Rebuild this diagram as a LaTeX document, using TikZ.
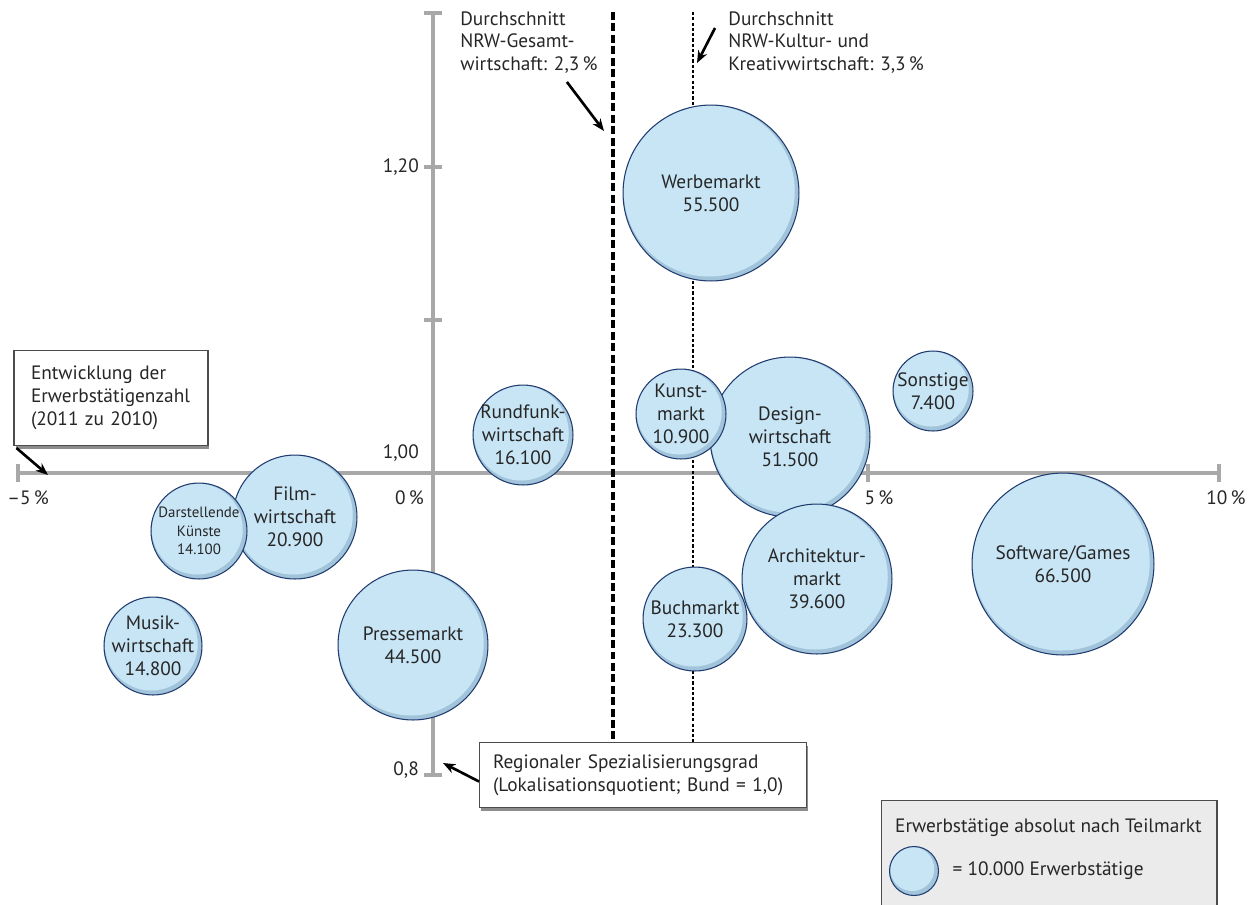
\documentclass[tikz,border=0pt]{standalone}
\usepackage{fontspec}
\setmainfont{PT Sans}
\usetikzlibrary{positioning,arrows.meta,shadows}
\definecolor{bubfill}{HTML}{C8E5F6}
\definecolor{bubdark}{HTML}{A2C4DA}
\definecolor{bubline}{HTML}{1F3B6F}
\definecolor{axisgray}{HTML}{A8A8A8}
\definecolor{legfill}{HTML}{EBEBEB}
\tikzset{
  bubble/.style={circle, draw=bubline, line width=0.6pt, inner sep=0pt,
    minimum size={#1*0.04cm},
    path picture={
      \fill[bubdark] (path picture bounding box.center) circle[radius={#1*0.02cm}];
      \fill[bubfill] ([shift={(-0.035cm,0.04cm)}]path picture bounding box.center) circle[radius={#1*0.02cm-0.05cm}];
    }},
  lbl/.style={font=\fontsize{11}{13}\selectfont, text=black!85},
  bubtext/.style={lbl, align=center},
  infobox/.style={lbl, draw=black!70, fill=white, line width=0.6pt, align=left,
    drop shadow={shadow xshift=0.03cm, shadow yshift=-0.07cm, fill=black!45, opacity=1}},
  axis/.style={line width=2.8pt, draw=axisgray},
  pointer/.style={line width=1.5pt, -{Stealth[length=7pt,width=5.5pt]}},
}
\begin{document}
\begin{tikzpicture}[x=0.02cm, y=-0.02cm]
\useasboundingbox (0,0) rectangle (1254,904);
% axes
\draw[axis] (18,473) -- (1219,473);
\draw[axis] (433,13) -- (433,775);
\foreach \x in {18,868,1219} \draw[axis] (\x,464) -- (\x,482);
\foreach \y in {13,167,320,775} \draw[axis] (424,\y) -- (442,\y);
\node[lbl, anchor=east] (lab120) at (425,167) {1,20};
\node[lbl, anchor=east] (lab100) at (425,453) {1,00};
\node[lbl, anchor=east] (lab08) at (425,770) {0,8};
\node[lbl, anchor=east] (lab0) at (430,498) {0\,\%};
\node[lbl] (labm5) at (28,498) {\textendash5\,\%};
\node[lbl] (lab5) at (879,498) {5\,\%};
\node[lbl] (lab10) at (1226,498) {10\,\%};
% averages
\draw[black, line width=1.8pt, dash pattern=on 4.5pt off 2pt] (613,12) -- (613,760);
\draw[black, line width=1.3pt, dash pattern=on 1.8pt off 1.2pt] (693,12) -- (693,760);
\node[lbl, anchor=north west, align=left, inner sep=0pt] (gesamt) at (460,11) {Durchschnitt\\NRW-Gesamt-\\wirtschaft: 2,3\,\%};
\coordinate (gesamtpt) at (604,131);
\draw[pointer] ([shift={(-0.62cm,-0.16cm)}]gesamt.south east) -- (gesamtpt);
\node[lbl, anchor=north west, align=left, inner sep=0pt] (kultur) at (728,11) {Durchschnitt\\NRW-Kultur- und\\Kreativwirtschaft: 3,3\,\%};
\coordinate (kulturpt) at (697,63);
\draw[pointer] ([shift={(-0.26cm,-0.34cm)}]kultur.north west) -- (kulturpt);
% bubbles
\node[bubble=88, label={[bubtext]center:{Werbemarkt\\55.500}}] (werbe) at (711,193) {};
\node[bubble=50, label={[bubtext]center:{Rundfunk-\\wirtschaft\\16.100}}] (rundfunk) at (523,435) {};
\node[bubble=80, label={[bubtext]center:{Design-\\wirtschaft\\51.500}}] (design) at (790,437) {};
\node[bubble=45, label={[bubtext]center:{Kunst-\\markt\\10.900}}] (kunst) at (681,414) {};
\node[bubble=40, label={[bubtext]center:{Sonstige\\7.400}}] (sonst) at (933,391) {};
\node[bubble=75, label={[bubtext]center:{Architektur-\\markt\\39.600}}] (archi) at (817,579) {};
\node[bubble=52, label={[bubtext]center:{Buchmarkt\\23.300}}] (buch) at (695,619) {};
\node[bubble=91, label={[bubtext]center:{Software/Games\\66.500}}] (soft) at (1063,564) {};
\node[bubble=62, label={[bubtext]center:{Film-\\wirtschaft\\20.900}}] (film) at (295,517) {};
\node[bubble=48, label={[bubtext, font=\fontsize{8.5}{10.5}\selectfont]center:{Darstellende\\Künste\\14.100}}] (darst) at (199,531) {};
\node[bubble=49, label={[bubtext]center:{Musik-\\wirtschaft\\14.800}}] (musik) at (153,646) {};
\node[bubble=75, label={[bubtext]center:{Pressemarkt\\44.500}}] (presse) at (413,645) {};
% boxes
\node[infobox, minimum width=3.88cm, minimum height=1.9cm, text width=3.2cm, inner xsep=0.34cm] (entw) at (111,398) {Entwicklung der\\Erwerbstätigenzahl\\(2011 zu 2010)};
\coordinate (entwpt) at (48,475);
\draw[pointer] ([shift={(0.06cm,-0.04cm)}]entw.south west) -- (entwpt);
\node[infobox, minimum width=6.54cm, minimum height=1.3cm, text width=6.0cm, inner xsep=0.26cm] (regio) at (643,775) {Regionaler Spezialisierungsgrad\\(Lokalisationsquotient; Bund = 1,0)};
\coordinate (regiopt) at (443,763);
\draw[pointer] ([yshift=-0.13cm]regio.west) -- (regiopt);
% legend
\node[infobox, fill=legfill, minimum width=6.72cm, minimum height=2.2cm] (legend) at (1049,855) {};
\node[lbl, anchor=west] (legtitle) at (889,828) {Erwerbstätige absolut nach Teilmarkt};
\node[bubble=24.5] (legbub) at (914,871) {};
\node[lbl, right=0.15cm of legbub] (legtext) {= 10.000 Erwerbstätige};
\end{tikzpicture}
\end{document}
